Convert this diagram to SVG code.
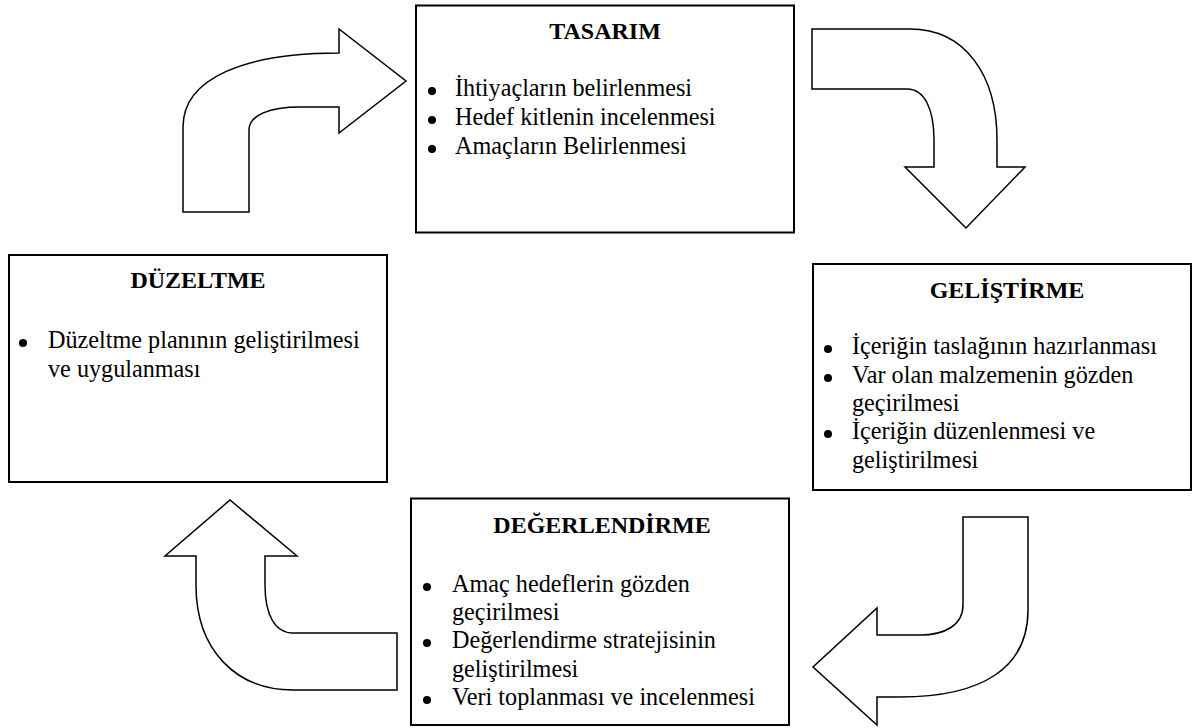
<svg xmlns="http://www.w3.org/2000/svg" width="1200" height="728" viewBox="0 0 1200 728">
  <style>
    .box { fill: #fff; stroke: #000; stroke-width: 2; }
    .arrow { fill: #fff; stroke: #000; stroke-width: 1.5; stroke-linejoin: miter; }
    text { font-family: "Liberation Serif", Tinos, "Times New Roman", "DejaVu Serif", serif; fill: #000; }
    .title { font-weight: bold; font-size: 24px; text-anchor: middle; }
    .item { font-size: 24.2px; }
    .dot { fill: #000; }
  </style>
  <rect width="1200" height="728" fill="#fff"/>

  <!-- curved block arrows linking the four phases -->
  <g id="connectors">
    <!-- DÜZELTME -> TASARIM -->
    <path class="arrow" d="M183,212 V127 C183,78 245,53 339,53 V29 L406,81 L339,133 V107 H300 C270,107 249,115 249,130 V212 Z"/>
    <!-- TASARIM -> GELİŞTİRME -->
    <path class="arrow" d="M812,29 H910 C965,29 997,75 997,140 V167 H1025 L966,228 L905,167 H934 V140 C934,110 925,89 907,89 H812 Z"/>
    <!-- GELİŞTİRME -> DEĞERLENDİRME -->
    <path class="arrow" d="M963,517 H1028 V610 C1028,668 982,697 900,697 H877 V725 L813,667 L877,608 V635 H920 C945,635 963,625 963,605 Z"/>
    <!-- DEĞERLENDİRME -> DÜZELTME -->
    <path class="arrow" d="M397,690 H293 C236,690 196,650 196,585 V556 H165 L230,500 L297,556 H265 V585 C265,615 275,633 293,633 H397 Z"/>
  </g>

  <g id="tasarim">
    <rect class="box" x="416" y="5.5" width="378" height="227"/>
    <text class="title" x="605" y="39">TASARIM</text>
    <circle class="dot" cx="432" cy="91" r="4"/>
    <circle class="dot" cx="432" cy="120" r="4"/>
    <circle class="dot" cx="432" cy="149" r="4"/>
    <text class="item" x="455" y="96">İhtiyaçların belirlenmesi</text>
    <text class="item" x="455" y="125">Hedef kitlenin incelenmesi</text>
    <text class="item" x="455" y="154">Amaçların Belirlenmesi</text>
  </g>

  <g id="gelistirme">
    <rect class="box" x="813" y="264" width="378" height="226"/>
    <text class="title" x="1007" y="298">GELİŞTİRME</text>
    <circle class="dot" cx="828" cy="349" r="4"/>
    <circle class="dot" cx="828" cy="378" r="4"/>
    <circle class="dot" cx="828" cy="434" r="4"/>
    <text class="item" x="852" y="354">İçeriğin taslağının hazırlanması</text>
    <text class="item" x="852" y="383">Var olan malzemenin gözden</text>
    <text class="item" x="852" y="411">geçirilmesi</text>
    <text class="item" x="852" y="439">İçeriğin düzenlenmesi ve</text>
    <text class="item" x="852" y="468">geliştirilmesi</text>
  </g>

  <g id="degerlendirme">
    <rect class="box" x="411" y="498.5" width="378" height="226.5"/>
    <text class="title" x="602" y="533">DEĞERLENDİRME</text>
    <circle class="dot" cx="427" cy="587" r="4"/>
    <circle class="dot" cx="427" cy="643" r="4"/>
    <circle class="dot" cx="427" cy="700" r="4"/>
    <text class="item" x="452" y="592">Amaç hedeflerin gözden</text>
    <text class="item" x="452" y="620">geçirilmesi</text>
    <text class="item" x="452" y="648">Değerlendirme stratejisinin</text>
    <text class="item" x="452" y="677">geliştirilmesi</text>
    <text class="item" x="452" y="705">Veri toplanması ve incelenmesi</text>
  </g>

  <g id="duzeltme">
    <rect class="box" x="9" y="255" width="378" height="227"/>
    <text class="title" x="198" y="288">DÜZELTME</text>
    <circle class="dot" cx="23" cy="343" r="4"/>
    <text class="item" x="48" y="348">Düzeltme planının geliştirilmesi</text>
    <text class="item" x="48" y="377">ve uygulanması</text>
  </g>
</svg>
